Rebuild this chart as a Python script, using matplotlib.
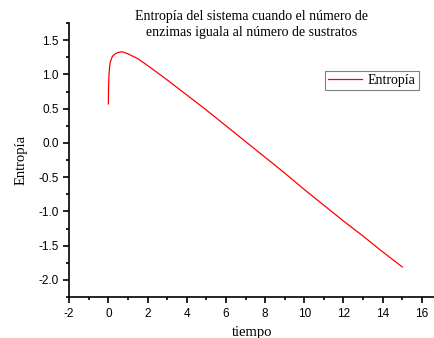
import matplotlib
matplotlib.use('Agg')
import matplotlib.pyplot as plt
from matplotlib.ticker import MultipleLocator

plt.rcParams['axes.unicode_minus'] = False

# curve
tiempo = [0, 0.01, 0.03, 0.06, 0.1, 0.2, 0.35, 0.5, 0.7, 1.0, 1.5, 2, 3, 4, 5,
          6, 7, 8, 9, 10, 11, 12, 13, 14, 15]
entropia = [0.57, 0.80, 0.98, 1.10, 1.18, 1.26, 1.30, 1.32, 1.33, 1.30, 1.23,
            1.13, 0.92, 0.70, 0.48, 0.25, 0.02, -0.21, -0.44, -0.68, -0.91,
            -1.14, -1.36, -1.59, -1.81]

serif = 'Liberation Serif'
sans = 'Liberation Sans'

fig = plt.figure(figsize=(4.35, 3.38), dpi=100)
ax = fig.add_axes([0.159, 0.121, 0.841, 0.811])

ax.plot(tiempo, entropia, color='red', lw=0.9, label='Entropía')

ax.set_xlim(-2, 16.67)
ax.set_ylim(-2.25, 1.75)
ax.xaxis.set_major_locator(MultipleLocator(2))
ax.xaxis.set_minor_locator(MultipleLocator(1))
ax.yaxis.set_major_locator(MultipleLocator(0.5))
ax.yaxis.set_minor_locator(MultipleLocator(0.25))
ax.spines['top'].set_visible(False)
ax.spines['right'].set_visible(False)
for s in ['left', 'bottom']:
    ax.spines[s].set_linewidth(1.2)
ax.tick_params(which='major', direction='out', length=4, width=1.2, labelsize=8.5)
ax.tick_params(which='minor', direction='out', length=2.5, width=1.2)
for lab in ax.get_xticklabels() + ax.get_yticklabels():
    lab.set_family(sans)

ax.set_xlabel('tiempo', family=serif, fontsize=10.5, labelpad=5)
ax.set_ylabel('Entropía', family=serif, fontsize=10.5, labelpad=8)
fig.text(0.579, 0.927, 'Entropía del sistema cuando el número de\nenzimas iguala al número de sustratos',
         family=serif, fontsize=10, linespacing=1.35, ha='center', va='center')

leg = ax.legend(loc='upper left', bbox_to_anchor=(0.68, 0.85), fancybox=False,
                framealpha=1, edgecolor='gray', prop={'family': serif, 'size': 10},
                handlelength=2.5, borderpad=0.2, handletextpad=0.4)
leg.get_frame().set_linewidth(0.8)

fig.savefig('out.png', dpi=100)
